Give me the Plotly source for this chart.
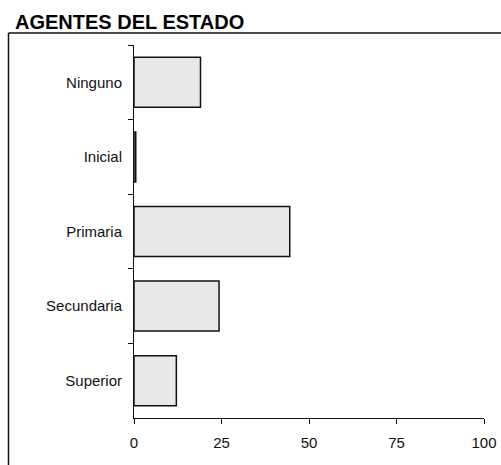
import plotly.graph_objects as go

# data
categories = ["Ninguno", "Inicial", "Primaria", "Secundaria", "Superior"]
values = [19.0, 0.5, 44.5, 24.3, 12.1]
x_ticks = [0, 25, 50, 75, 100]
title_text = "AGENTES DEL ESTADO"

W, H = 501, 465
L, R, T, B = 134, 17, 45, 47
pw, ph = W - L - R, H - T - B


def px_x(p):
    # page pixel -> paper x
    return (p - L) / pw


def px_y(p):
    # page pixel -> paper y
    return (H - B - p) / ph


font = "Liberation Sans, Arial, sans-serif"

fig = go.Figure()
fig.add_trace(
    go.Bar(
        x=values,
        y=categories,
        orientation="h",
        marker=dict(color="#e8e8e8", line=dict(color="#111111", width=1.5)),
        showlegend=False,
    )
)

fig.update_layout(
    width=W,
    height=H,
    margin=dict(l=L, r=R, t=T, b=B, autoexpand=False),
    paper_bgcolor="white",
    plot_bgcolor="white",
    bargap=0.33,
    font=dict(family=font, size=15, color="#111111"),
    xaxis=dict(
        range=[0, 100],
        tickvals=x_ticks,
        ticks="outside",
        ticklen=5,
        tickcolor="#111111",
        showline=True,
        linecolor="#111111",
        linewidth=1,
        showgrid=False,
        zeroline=False,
        automargin=False,
        ticklabelstandoff=6,
        ticklabeloverflow="allow",
    ),
    yaxis=dict(
        categoryorder="array",
        categoryarray=categories,
        autorange="reversed",
        tickson="boundaries",
        ticks="outside",
        ticklen=5,
        tickcolor="#111111",
        showline=True,
        linecolor="#111111",
        linewidth=1,
        showgrid=False,
        zeroline=False,
        automargin=False,
        ticklabelstandoff=8,
    ),
    shapes=[
        dict(type="line", xref="paper", yref="paper",
             x0=px_x(8.5), x1=px_x(510), y0=px_y(33), y1=px_y(33),
             line=dict(color="#111111", width=1.5)),
        dict(type="line", xref="paper", yref="paper",
             x0=px_x(8.5), x1=px_x(8.5), y0=px_y(33), y1=px_y(475),
             line=dict(color="#111111", width=1.5)),
    ],
    annotations=[
        dict(text="<b>" + title_text + "</b>", xref="paper", yref="paper",
             x=px_x(12.5), y=px_y(21.5), xanchor="left", yanchor="middle",
             showarrow=False, font=dict(family=font, size=20, color="black")),
    ],
)

# drop the browser's default 8px body margin so the figure fills the window
fig.write_html(
    "out.html",
    config={"displayModeBar": False},
    post_script="document.body.style.margin = '0';",
)
